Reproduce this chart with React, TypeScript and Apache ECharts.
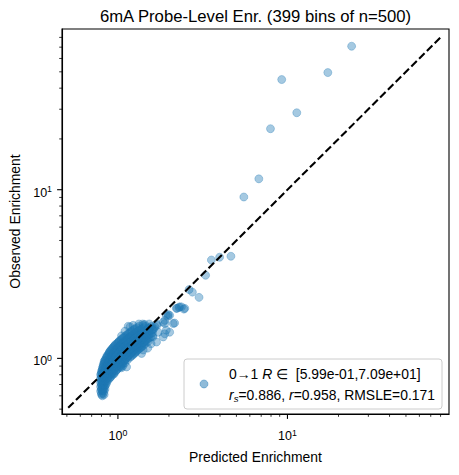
import React, { useEffect, useRef } from "react";
import * as echarts from "echarts";

const FONT = "'Liberation Sans', Arial, Helvetica, sans-serif";

// Axis range (log10 scale, same for both axes) and identity line extent
const AXIS_MIN = 0.468;
const AXIS_MAX = 89.7;
const identityLine: [number, number][] = [
  [0.509, 0.509],
  [81.5, 81.5],
];
const majorTicks = [1, 10];
const minorTicks = [0.5, 0.6, 0.7, 0.8, 0.9, 2, 3, 4, 5, 6, 7, 8, 9, 20, 30, 40, 50, 60, 70, 80];

// Dense core of bins: [observed, predicted values at that observed level]
const coreRows: [number, number[]][] = [
  [0.6, [0.81]],
  [0.61, [0.8, 0.83]],
  [0.62, [0.8, 0.82]],
  [0.64, [0.79, 0.81, 0.83]],
  [0.65, [0.8, 0.82]],
  [0.66, [0.8, 0.82, 0.84]],
  [0.68, [0.79, 0.81, 0.83]],
  [0.69, [0.8, 0.82, 0.84]],
  [0.7, [0.8, 0.82, 0.85]],
  [0.72, [0.79, 0.81, 0.83, 0.86]],
  [0.73, [0.8, 0.82, 0.85]],
  [0.74, [0.8, 0.82, 0.84, 0.87]],
  [0.76, [0.79, 0.81, 0.83, 0.86, 0.89]],
  [0.77, [0.8, 0.82, 0.84, 0.87, 0.9]],
  [0.78, [0.8, 0.82, 0.85, 0.88, 0.91]],
  [0.8, [0.79, 0.81, 0.84, 0.87, 0.9, 0.93]],
  [0.81, [0.8, 0.83, 0.86, 0.89, 0.92, 0.95]],
  [0.82, [0.8, 0.82, 0.85, 0.88, 0.92, 0.95]],
  [0.84, [0.8, 0.83, 0.86, 0.89, 0.93, 0.97]],
  [0.85, [0.81, 0.84, 0.87, 0.9, 0.94, 0.98]],
  [0.86, [0.81, 0.84, 0.87, 0.91, 0.95, 0.99]],
  [0.88, [0.81, 0.84, 0.88, 0.92, 0.96, 1.01, 1.05]],
  [0.89, [0.82, 0.86, 0.9, 0.94, 0.99, 1.04]],
  [0.9, [0.82, 0.85, 0.89, 0.93, 0.98, 1.03, 1.07]],
  [0.92, [0.82, 0.86, 0.9, 0.95, 1.0, 1.05]],
  [0.93, [0.83, 0.87, 0.92, 0.97, 1.02, 1.07]],
  [0.94, [0.83, 0.87, 0.91, 0.96, 1.01, 1.06, 1.1]],
  [0.96, [0.83, 0.88, 0.93, 0.98, 1.03, 1.08]],
  [0.97, [0.84, 0.88, 0.93, 0.98, 1.04, 1.09]],
  [0.98, [0.84, 0.89, 0.94, 0.99, 1.05, 1.1, 1.14]],
  [1.0, [0.85, 0.9, 0.96, 1.01, 1.07, 1.12]],
  [1.015, [0.86, 0.91, 0.97, 1.02, 1.08, 1.14, 1.18]],
  [1.03, [0.86, 0.91, 0.97, 1.03, 1.09, 1.15, 1.2]],
  [1.045, [0.87, 0.92, 0.98, 1.04, 1.1, 1.16, 1.22]],
  [1.06, [0.88, 0.93, 0.99, 1.05, 1.11, 1.18, 1.24]],
  [1.075, [0.89, 0.94, 1.0, 1.07, 1.13, 1.2, 1.26]],
  [1.09, [0.89, 0.95, 1.01, 1.08, 1.14, 1.21, 1.27]],
  [1.105, [0.9, 0.96, 1.03, 1.09, 1.16, 1.23, 1.29]],
  [1.12, [0.91, 0.97, 1.04, 1.1, 1.17, 1.24, 1.31]],
  [1.135, [0.92, 0.98, 1.05, 1.12, 1.19, 1.26, 1.33]],
  [1.15, [0.93, 0.99, 1.06, 1.13, 1.2, 1.28, 1.35]],
  [1.165, [0.94, 1.01, 1.08, 1.15, 1.22, 1.3, 1.37]],
  [1.18, [0.95, 1.02, 1.09, 1.16, 1.24, 1.32, 1.39]],
  [1.195, [0.96, 1.03, 1.1, 1.18, 1.26, 1.34, 1.42]],
  [1.21, [0.97, 1.04, 1.12, 1.2, 1.28, 1.36]],
  [1.225, [0.99, 1.06, 1.14, 1.22, 1.3, 1.38, 1.45]],
  [1.24, [1.0, 1.07, 1.15, 1.23, 1.32, 1.41]],
  [1.255, [1.01, 1.09, 1.17, 1.25, 1.34, 1.43, 1.5]],
  [1.27, [1.02, 1.1, 1.19, 1.27, 1.36, 1.45]],
  [1.285, [1.04, 1.12, 1.2, 1.29, 1.38, 1.47]],
  [1.3, [1.05, 1.13, 1.22, 1.31, 1.4, 1.5]],
  [1.32, [1.07, 1.15, 1.24, 1.33, 1.43, 1.53]],
  [1.34, [1.09, 1.17, 1.26, 1.36, 1.46, 1.56]],
  [1.36, [1.11, 1.2, 1.29, 1.39, 1.49, 1.6]],
  [1.38, [1.13, 1.22, 1.31, 1.41, 1.52]],
  [1.4, [1.15, 1.25, 1.35, 1.45, 1.56]],
  [1.42, [1.17, 1.27, 1.37, 1.48, 1.6]],
  [1.44, [1.19, 1.3, 1.4, 1.52]],
  [1.46, [1.21, 1.32, 1.43, 1.55]],
  [1.48, [1.24, 1.35, 1.47, 1.6]],
  [1.5, [1.26, 1.38, 1.5, 1.63]],
  [1.52, [1.3, 1.42, 1.55]],
  [1.55, [1.33, 1.45, 1.58]],
  [1.6, [1.4, 1.53, 1.7]],
];

// Sparser bins: [predicted, observed]
const sparseBins: [number, number][] = [
  [1.05, 1.36], [1.1, 1.45], [1.15, 1.55], [1.18, 1.54], [1.23, 1.57], [1.33, 1.6],
  [1.41, 1.57], [1.44, 1.59], [1.52, 1.52], [1.6, 1.48], [1.65, 1.54], [1.7, 1.57],
  [1.61, 1.34], [1.69, 1.25], [1.73, 1.43], [1.85, 1.34], [1.89, 1.4], [1.89, 1.61],
  [1.85, 1.64], [1.89, 1.68], [1.93, 1.47], [1.93, 1.8], [1.98, 1.78], [1.98, 1.82],
  [2.02, 1.43], [2.02, 1.8], [2.12, 1.61], [2.16, 1.62], [1.38, 1.07], [1.41, 1.12],
  [1.125, 0.89], [1.5, 1.15], [1.57, 1.22],
  [2.21, 1.98], [2.23, 1.98], [2.29, 2.0], [2.37, 2.02], [2.45, 1.96], [2.48, 1.98], [2.31, 2.02],
  [2.63, 2.56], [2.75, 2.47], [3.01, 2.3], [3.29, 3.11], [3.56, 3.83], [3.98, 3.98], [4.64, 4.03],
  [5.53, 9.05], [6.78, 11.6], [7.94, 23.0], [9.25, 45.0], [11.35, 28.6], [17.3, 49.5], [23.9, 70.9],
];

const titleText = "6mA Probe-Level Enr. (399 bins of n=500)";
const xName = "Predicted Enrichment";
const yName = "Observed Enrichment";
const legendLine1 = "0→1 {i|R} ∈  [5.99e-01,7.09e+01]";
const legendLine2 = "{i|r}{sub|s}=0.886, {i|r}=0.958, RMSLE=0.171";

const BLUE = "rgba(31,119,180,0.5)";

export default function App() {
  const ref = useRef<HTMLDivElement>(null);

  useEffect(() => {
    document.body.style.margin = "0";
    if (!ref.current) return;
    const chart = echarts.init(ref.current, undefined, { renderer: "svg" });

    const points: [number, number][] = [
      ...coreRows.flatMap(([y, xs]) => xs.map((x) => [x, y] as [number, number])),
      ...sparseBins,
    ];

    const tickRich = {
      b: { fontSize: 12.5, fontFamily: FONT, color: "#000", lineHeight: 16 },
      s: { fontSize: 8.8, fontFamily: FONT, color: "#000", verticalAlign: "top", lineHeight: 6 },
    };
    const fmt = (v: number) => {
      const l = Math.log10(v);
      const r = Math.round(l);
      if (Math.abs(l - r) < 1e-6) return `{b|10}{s|${r}}`;
      return "";
    };

    const baseAxis = {
      type: "log",
      logBase: 10,
      min: AXIS_MIN,
      max: AXIS_MAX,
      nameLocation: "middle",
      nameTextStyle: { fontFamily: FONT, fontSize: 13.9, color: "#000" },
      axisLine: { show: true, lineStyle: { color: "#000", width: 1.1 } },
      axisTick: { show: false },
      minorTick: { show: false },
      splitLine: { show: false },
      minorSplitLine: { show: false },
    };

    const xTickData = [
      ...majorTicks.map((v) => [v, AXIS_MIN, 1]),
      ...minorTicks.map((v) => [v, AXIS_MIN, 0]),
    ];
    const yTickData = [
      ...majorTicks.map((v) => [AXIS_MIN, v, 1]),
      ...minorTicks.map((v) => [AXIS_MIN, v, 0]),
    ];

    const richItalic = { fontStyle: "italic", fontSize: 13.9, fontFamily: FONT, color: "#000", lineHeight: 16 };
    const richNormal = { fontSize: 13.9, fontFamily: FONT, color: "#000", lineHeight: 16 };

    chart.setOption({
      animation: false,
      backgroundColor: "#fff",
      grid: {
        left: 62,
        right: 10,
        top: 29,
        bottom: 61,
        show: true,
        borderColor: "#000",
        borderWidth: 1.1,
        backgroundColor: "transparent",
      },
      xAxis: {
        ...baseAxis,
        name: xName,
        nameGap: 36,
        axisLabel: { formatter: fmt, margin: 14, showMinLabel: false, showMaxLabel: false, rich: tickRich },
      },
      yAxis: {
        ...baseAxis,
        name: yName,
        nameGap: 38,
        axisLabel: {
          formatter: fmt,
          margin: 10,
          padding: [6, 0, 0, 0],
          showMinLabel: false,
          showMaxLabel: false,
          rich: tickRich,
        },
      },
      series: [
        {
          type: "scatter",
          data: points,
          symbolSize: 8,
          itemStyle: { color: BLUE, borderColor: BLUE, borderWidth: 0.8 },
          z: 2,
          silent: true,
        },
        {
          type: "line",
          data: identityLine,
          symbol: "none",
          lineStyle: { color: "#000", width: 2.1, type: [7.7, 3.3] },
          z: 3,
          silent: true,
        },
        {
          type: "custom",
          data: xTickData,
          clip: false,
          silent: true,
          z: 4,
          renderItem: (_p: any, api: any) => {
            const pt = api.coord([api.value(0), api.value(1)]);
            const major = api.value(2) === 1;
            const len = major ? 4.9 : 2.8;
            return {
              type: "line",
              shape: { x1: pt[0], y1: pt[1], x2: pt[0], y2: pt[1] + len },
              style: { stroke: "#000", lineWidth: major ? 1.1 : 0.8 },
            };
          },
        },
        {
          type: "custom",
          data: yTickData,
          clip: false,
          silent: true,
          z: 4,
          renderItem: (_p: any, api: any) => {
            const pt = api.coord([api.value(0), api.value(1)]);
            const major = api.value(2) === 1;
            const len = major ? 4.9 : 2.8;
            return {
              type: "line",
              shape: { x1: pt[0], y1: pt[1], x2: pt[0] - len, y2: pt[1] },
              style: { stroke: "#000", lineWidth: major ? 1.1 : 0.8 },
            };
          },
        },
      ],
      graphic: [
        {
          type: "text",
          x: 255.5,
          y: 16,
          style: {
            text: titleText,
            fontSize: 16.7,
            fontFamily: FONT,
            fill: "#000",
            align: "center",
            verticalAlign: "middle",
            textAlign: "center",
            textVerticalAlign: "middle",
          },
        },
        {
          type: "rect",
          shape: { x: 184, y: 359, width: 258, height: 50, r: 3 },
          style: { fill: "rgba(255,255,255,0.8)", stroke: "#cccccc", lineWidth: 1 },
          z: 10,
        },
        {
          type: "circle",
          shape: { cx: 204, cy: 384, r: 4 },
          style: { fill: BLUE, stroke: BLUE, lineWidth: 0.8 },
          z: 11,
        },
        {
          type: "text",
          x: 229,
          y: 374,
          z: 11,
          style: {
            text: legendLine1,
            fontSize: 13.9,
            fontFamily: FONT,
            fill: "#000",
            verticalAlign: "middle",
            textVerticalAlign: "middle",
            rich: { i: richItalic, n: richNormal },
          },
        },
        {
          type: "text",
          x: 229,
          y: 395,
          z: 11,
          style: {
            text: legendLine2,
            fontSize: 13.9,
            fontFamily: FONT,
            fill: "#000",
            verticalAlign: "middle",
            textVerticalAlign: "middle",
            rich: {
              i: richItalic,
              n: richNormal,
              sub: { fontSize: 9.7, fontFamily: FONT, fontStyle: "italic", color: "#000", verticalAlign: "bottom", lineHeight: 8 },
            },
          },
        },
      ],
    });

    return () => chart.dispose();
  }, []);

  return <div ref={ref} style={{ width: 459, height: 475 }} />;
}
